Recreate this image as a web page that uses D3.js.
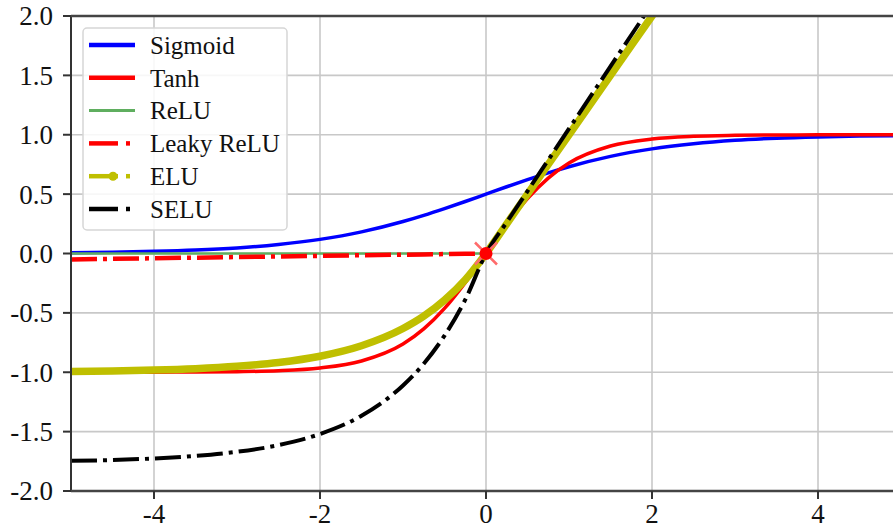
<!DOCTYPE html>
<html>
<head>
<meta charset="utf-8">
<script src="https://cdn.jsdelivr.net/npm/d3@7"></script>
<style>
  html, body { margin: 0; padding: 0; background: #fff; }
  svg { display: block; }
</style>
</head>
<body>
<script>
// values
var xs      = [-5, -4.5, -4, -3.5, -3, -2.5, -2, -1.5, -1, -0.75, -0.5, -0.25, 0, 0.25, 0.5, 0.75, 1, 1.5, 2, 2.5, 3, 3.5, 4, 4.5, 5];
var sigmoid = [0.007, 0.011, 0.018, 0.029, 0.047, 0.076, 0.119, 0.182, 0.269, 0.321, 0.378, 0.438, 0.5, 0.562, 0.622, 0.679, 0.731, 0.818, 0.881, 0.924, 0.953, 0.971, 0.982, 0.989, 0.993];
var tanh    = [-1.0, -1.0, -0.999, -0.998, -0.995, -0.987, -0.964, -0.905, -0.762, -0.635, -0.462, -0.245, 0, 0.245, 0.462, 0.635, 0.762, 0.905, 0.964, 0.987, 0.995, 0.998, 0.999, 1.0, 1.0];
var relu    = [0, 0, 0, 0, 0, 0, 0, 0, 0, 0, 0, 0, 0, 0.25, 0.5, 0.75, 1, 1.5, 2, 2.5, 3, 3.5, 4, 4.5, 5];
var leaky   = [-0.05, -0.045, -0.04, -0.035, -0.03, -0.025, -0.02, -0.015, -0.01, -0.0075, -0.005, -0.0025, 0, 0.25, 0.5, 0.75, 1, 1.5, 2, 2.5, 3, 3.5, 4, 4.5, 5];
var elu     = [-0.993, -0.989, -0.982, -0.970, -0.950, -0.918, -0.865, -0.777, -0.632, -0.528, -0.393, -0.221, 0, 0.25, 0.5, 0.75, 1, 1.5, 2, 2.5, 3, 3.5, 4, 4.5, 5];
var selu    = [-1.746, -1.739, -1.726, -1.705, -1.670, -1.614, -1.520, -1.366, -1.111, -0.928, -0.692, -0.389, 0, 0.263, 0.525, 0.788, 1.051, 1.576, 2.101, 2.627, 3.152, 3.677, 4.203, 4.728, 5.254];

var labels  = ['Sigmoid', 'Tanh', 'ReLU', 'Leaky ReLU', 'ELU', 'SELU'];
var xTicks  = [-4, -2, 0, 2, 4];
var yTicks  = [-2, -1.5, -1, -0.5, 0, 0.5, 1, 1.5, 2];
var origin  = [0, 0];

var W = 893, H = 528;
var margin = {top: 16, left: 71};
var width = 830, height = 475;

var svg = d3.select('body').append('svg')
  .attr('width', W)
  .attr('height', H);

var g = svg.append('g')
  .attr('transform', 'translate(' + margin.left + ',' + margin.top + ')');

var x = d3.scaleLinear().domain([-5, 5]).range([0, width]);
var y = d3.scaleLinear().domain([-2, 2]).range([height, 0]);

// grid
g.append('g').selectAll('line').data(xTicks).enter().append('line')
  .attr('x1', d => x(d)).attr('x2', d => x(d))
  .attr('y1', 0).attr('y2', height)
  .attr('stroke', '#c8c8c8').attr('stroke-width', 1.6);
g.append('g').selectAll('line').data(yTicks).enter().append('line')
  .attr('x1', 0).attr('x2', width)
  .attr('y1', d => y(d)).attr('y2', d => y(d))
  .attr('stroke', '#c8c8c8').attr('stroke-width', 1.6);

g.append('clipPath').attr('id', 'clip')
  .append('rect').attr('width', width).attr('height', height);

var series = [
  {vals: sigmoid, color: '#0000ff', w: 3.5, dash: null, curve: d3.curveMonotoneX},
  {vals: tanh,    color: '#ff0000', w: 3.5, dash: null, curve: d3.curveMonotoneX},
  {vals: relu,    color: '#5fae5f', w: 2.5, dash: null, curve: d3.curveLinear},
  {vals: leaky,   color: '#ff0000', w: 4.5, dash: '26,6,4,6', curve: d3.curveLinear},
  {vals: elu,     color: '#bfbf00', w: 7.5, dash: null, curve: d3.curveMonotoneX},
  {vals: selu,    color: '#000000', w: 4,   dash: '26,6,4,6', curve: d3.curveMonotoneX}
];

var plot = g.append('g').attr('clip-path', 'url(#clip)');

series.forEach(function (s) {
  var line = d3.line()
    .x((d, i) => x(xs[i]))
    .y(d => y(d))
    .curve(s.curve);
  plot.append('path')
    .datum(s.vals)
    .attr('d', line)
    .attr('fill', 'none')
    .attr('stroke', s.color)
    .attr('stroke-width', s.w)
    .attr('stroke-dasharray', s.dash);
});

// marker at origin
var ox = x(origin[0]), oy = y(origin[1]);
plot.append('path')
  .attr('d', 'M' + (ox - 11) + ',' + (oy - 11) + 'L' + (ox + 11) + ',' + (oy + 11) +
             'M' + (ox - 11) + ',' + (oy + 11) + 'L' + (ox + 11) + ',' + (oy - 11))
  .attr('stroke', '#ff6b6b').attr('stroke-width', 2.5).attr('fill', 'none');
plot.append('circle')
  .attr('cx', ox).attr('cy', oy).attr('r', 6.5)
  .attr('fill', '#ff0000');

// spines
g.append('line').attr('x1', 0).attr('x2', 0).attr('y1', 0).attr('y2', height)
  .attr('stroke', '#333').attr('stroke-width', 2);
g.append('line').attr('x1', 0).attr('x2', width).attr('y1', 0).attr('y2', 0)
  .attr('stroke', '#444').attr('stroke-width', 2.5);
g.append('line').attr('x1', 0).attr('x2', width).attr('y1', height).attr('y2', height)
  .attr('stroke', '#444').attr('stroke-width', 2.5);

// ticks + labels
var fnt = '"Liberation Serif", "Times New Roman", serif';
var yt = g.append('g').selectAll('g').data(yTicks).enter().append('g')
  .attr('transform', d => 'translate(0,' + y(d) + ')');
yt.append('line').attr('x1', -8).attr('x2', 0).attr('stroke', '#333').attr('stroke-width', 2);
yt.append('text')
  .attr('x', -18).attr('dy', '0.35em')
  .attr('text-anchor', 'end')
  .style('font-family', fnt).style('font-size', '27px').attr('fill', '#111')
  .text(d => d.toFixed(1));

var xt = g.append('g').selectAll('g').data(xTicks).enter().append('g')
  .attr('transform', d => 'translate(' + x(d) + ',' + height + ')');
xt.append('line').attr('y1', 0).attr('y2', 8).attr('stroke', '#333').attr('stroke-width', 2);
xt.append('text')
  .attr('y', 32)
  .attr('text-anchor', 'middle')
  .style('font-family', fnt).style('font-size', '27px').attr('fill', '#111')
  .text(d => String(d));

// legend
var leg = svg.append('g').attr('transform', 'translate(83,28)');
leg.append('rect')
  .attr('width', 204).attr('height', 202)
  .attr('rx', 4)
  .attr('fill', 'rgba(255,255,255,0.85)')
  .attr('stroke', '#d6d6d6').attr('stroke-width', 1.5);

var rows = leg.selectAll('g.row').data(labels).enter().append('g')
  .attr('class', 'row')
  .attr('transform', (d, i) => 'translate(0,' + (17 + i * 32.8) + ')');

rows.each(function (d, i) {
  var r = d3.select(this), s = series[i];
  var lw = i === 2 ? 3 : 4.5;
  if (s.dash || i === 4) {
    r.append('line').attr('x1', 6).attr('x2', 35).attr('stroke', s.color).attr('stroke-width', lw);
    r.append('line').attr('x1', 43).attr('x2', 47).attr('stroke', s.color).attr('stroke-width', lw);
    if (i === 4) {
      r.append('circle').attr('cx', 30).attr('r', 4.5).attr('fill', s.color);
    }
  } else {
    r.append('line').attr('x1', 6).attr('x2', 52).attr('stroke', s.color).attr('stroke-width', lw);
  }
  r.append('text')
    .attr('x', 67).attr('dy', '0.35em')
    .style('font-family', fnt).style('font-size', '25px').attr('fill', '#111')
    .text(d);
});
</script>
</body>
</html>
